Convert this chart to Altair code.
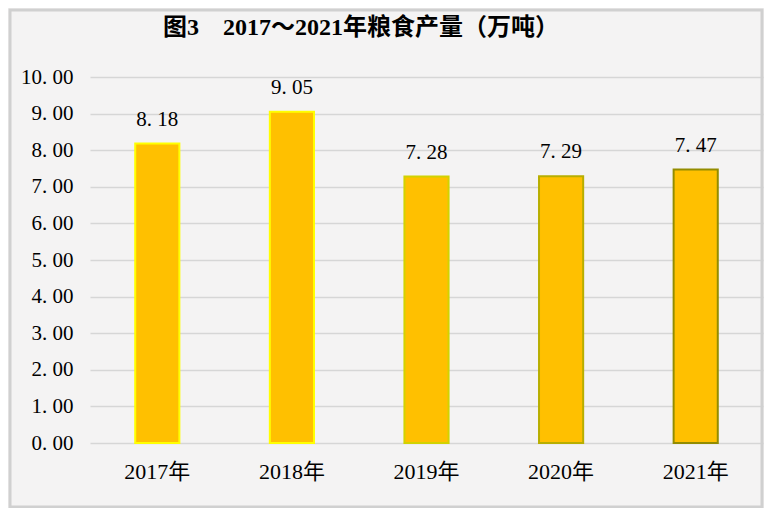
import altair as alt
import pandas as pd

years = ["2017年", "2018年", "2019年", "2020年", "2021年"]
output = [8.18, 9.05, 7.28, 7.29, 7.47]
y_ticks = [0, 1, 2, 3, 4, 5, 6, 7, 8, 9, 10]
title_text = "图3　2017～2021年粮食产量（万吨）"
bar_strokes = ["#FFFF00", "#FFFF00", "#D2D200", "#B8AE00", "#938C00"]

df = pd.DataFrame({"year": years, "value": output})

FONT = "Liberation Serif, Noto Sans CJK SC"

x_axis = alt.Axis(labelAngle=0, labelFont=FONT, labelFontSize=22,
                  labelColor="#000000", labelPadding=18, ticks=False,
                  domain=False, grid=False)
y_axis = alt.Axis(values=y_ticks, tickCount=11, labelFont=FONT, labelFontSize=21,
                  labelColor="#000000", labelPadding=17, ticks=False,
                  domain=False, gridColor="#D6D6D6", gridWidth=1.6,
                  labelOverlap=False,
                  labelExpr="replace(format(datum.value, '.2f'), '.', '. ')")
x_enc = alt.X("year:N", sort=years, title=None,
              scale=alt.Scale(paddingInner=0.672, paddingOuter=0.336),
              axis=x_axis)
y_enc = alt.Y("value:Q", title=None,
              scale=alt.Scale(domain=[0, 10], nice=False),
              axis=y_axis)

base = alt.Chart(df)

bars = base.mark_bar(color="#FFC000", strokeWidth=2).encode(
    x=x_enc,
    y=y_enc,
    stroke=alt.Stroke("year:N", sort=years,
                      scale=alt.Scale(domain=years, range=bar_strokes),
                      legend=None),
)

labels = base.transform_calculate(
    lab="replace(format(datum.value, '.2f'), '.', '. ')"
).mark_text(font=FONT, fontSize=21, color="#000000", baseline="bottom", dy=-14).encode(
    x=x_enc,
    y=y_enc,
    text="lab:N",
)

one = pd.DataFrame({"t": [title_text]})

border = alt.Chart(one).mark_rect(
    fill=None, stroke="#D0D0D0", strokeWidth=3
).encode(
    x=alt.value(-80), x2=alt.value(672),
    y=alt.value(-67), y2=alt.value(430),
)

title = alt.Chart(one).mark_text(
    font=FONT, fontSize=24, fontWeight="bold", color="#000000",
    align="center", baseline="middle"
).encode(
    x=alt.value(271), y=alt.value(-49), text="t:N"
)

chart = alt.layer(bars, labels, border, title).properties(
    width=673,
    height=366,
    autosize=alt.AutoSizeParams(type="none"),
    padding={"left": 82, "top": 69, "right": 1, "bottom": 65},
    background="#F4F3F3",
).configure_view(stroke=None)

chart.save("out.html", embed_options={"renderer": "svg", "actions": False})
